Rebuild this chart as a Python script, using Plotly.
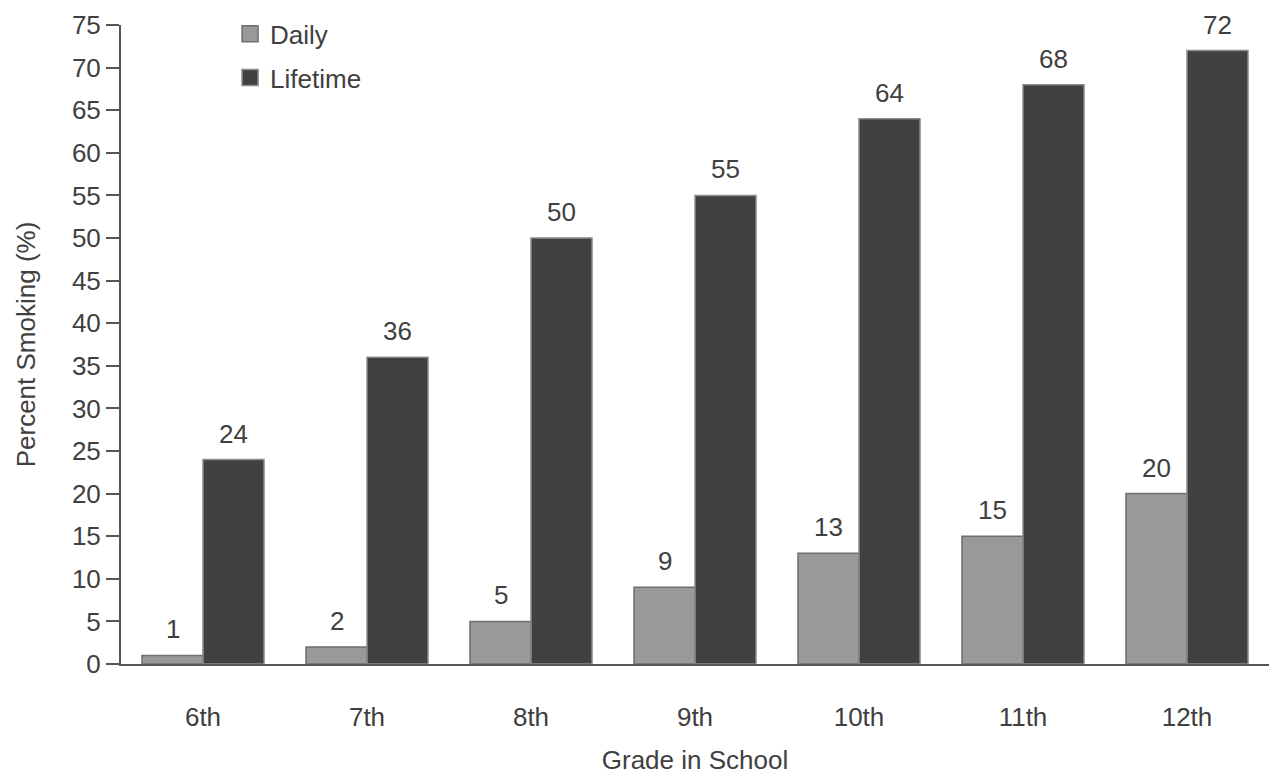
import plotly.graph_objects as go

grades = ["6th", "7th", "8th", "9th", "10th", "11th", "12th"]
daily = [1, 2, 5, 9, 13, 15, 20]
lifetime = [24, 36, 50, 55, 64, 68, 72]
y_ticks = list(range(0, 80, 5))

FONT = "Liberation Sans, Arial, sans-serif"
TEXT = "#404040"
DAILY_FILL = "#999999"
DAILY_EDGE = "#6e6e6e"
LIFE_FILL = "#404040"
LIFE_EDGE = "#8a8a8a"
AXIS = "#555555"
FS = 26

fig = go.Figure()
fig.add_trace(go.Bar(
    x=grades, y=daily, name="Daily", showlegend=False,
    marker=dict(color=DAILY_FILL, line=dict(color=DAILY_EDGE, width=1.5)),
))
fig.add_trace(go.Bar(
    x=grades, y=lifetime, name="Lifetime", showlegend=False,
    marker=dict(color=LIFE_FILL, line=dict(color=LIFE_EDGE, width=1.5)),
))

# legend entries with larger square swatches
for name, fill, edge in [("Daily", DAILY_FILL, DAILY_EDGE), ("Lifetime", LIFE_FILL, LIFE_EDGE)]:
    fig.add_trace(go.Scatter(
        x=[None], y=[None], mode="markers", name=name, legendgroup=name,
        marker=dict(symbol="square", size=20, color=fill, line=dict(color=edge, width=1.5)),
    ))

# value labels above each bar
half = 0.5 * (1 - 0.256) / 2  # half of one bar's width in category units
for i, g in enumerate(grades):
    for val, off in [(daily[i], -half), (lifetime[i], half)]:
        fig.add_annotation(
            x=i + off, y=val, xref="x", yref="y", text=str(val),
            showarrow=False, yanchor="bottom", yshift=9,
            font=dict(family=FONT, size=FS, color=TEXT),
        )

fig.update_layout(
    width=1276, height=775,
    margin=dict(l=121, r=7, t=25, b=111, autoexpand=False),
    plot_bgcolor="white", paper_bgcolor="white",
    barmode="group", bargap=0.256, bargroupgap=0,
    font=dict(family=FONT, size=FS, color=TEXT),
    legend=dict(
        x=0.095, y=1.023, xanchor="left", yanchor="top",
        traceorder="grouped", tracegroupgap=7,
        bgcolor="rgba(0,0,0,0)", font=dict(size=FS, color=TEXT),
        itemwidth=30,
    ),
    showlegend=True,
)
fig.update_xaxes(
    type="category", range=[-0.5, 6.5], automargin=False,
    showline=True, linecolor=AXIS, linewidth=2,
    ticks="", showgrid=False, zeroline=False,
    ticklabelstandoff=29,
    title=dict(text="Grade in School", standoff=46, font=dict(size=FS, color=TEXT)),
)
fig.update_yaxes(
    range=[0, 75], tickvals=y_ticks, automargin=False,
    showline=True, linecolor=AXIS, linewidth=2,
    ticks="outside", ticklen=13, tickwidth=2, tickcolor=AXIS,
    showgrid=False, zeroline=False,
    title=dict(text="Percent Smoking (%)", standoff=29, font=dict(size=FS, color=TEXT)),
)

fig.write_html("out.html")
